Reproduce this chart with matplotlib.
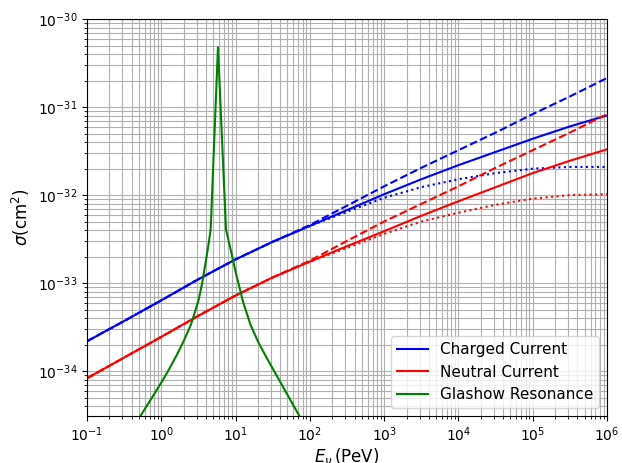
import numpy as np
import matplotlib
matplotlib.use("Agg")
import matplotlib.pyplot as plt

# log10(E / PeV) sample points
log_E = [-1.0, -0.5, 0.0, 0.5, 1.0, 1.5, 2.0, 2.5, 3.0, 3.5, 4.0, 4.5, 5.0, 5.5, 6.0]

# log10(sigma / cm^2)
cc_solid  = [-33.66, -33.43, -33.195, -32.955, -32.73, -32.53, -32.35, -32.17, -31.99, -31.82, -31.66, -31.51, -31.36, -31.22, -31.095]
cc_dashed = [-33.66, -33.43, -33.195, -32.955, -32.73, -32.53, -32.34, -32.12, -31.90, -31.69, -31.49, -31.29, -31.08, -30.88, -30.67]
cc_dotted = [-33.66, -33.43, -33.195, -32.955, -32.73, -32.53, -32.35, -32.19, -32.03, -31.91, -31.82, -31.75, -31.70, -31.68, -31.68]

nc_solid  = [-34.08, -33.845, -33.61, -33.37, -33.14, -32.935, -32.755, -32.58, -32.41, -32.235, -32.07, -31.91, -31.75, -31.61, -31.48]
nc_dashed = [-34.08, -33.845, -33.61, -33.37, -33.14, -32.935, -32.745, -32.52, -32.30, -32.10, -31.90, -31.69, -31.49, -31.29, -31.08]
nc_dotted = [-34.08, -33.845, -33.61, -33.37, -33.14, -32.935, -32.755, -32.60, -32.44, -32.30, -32.20, -32.11, -32.04, -32.00, -31.99]

# Glashow resonance
gr_log_E   = [-0.4, -0.3, -0.2, -0.1, 0.0, 0.1, 0.2, 0.3, 0.4, 0.5, 0.55, 0.6, 0.625, 0.665,
              0.763,
              0.871, 0.934, 1.0, 1.1, 1.2, 1.3, 1.4, 1.5, 1.6, 1.7, 1.8, 1.9]
gr_log_sig = [-34.67, -34.535, -34.40, -34.265, -34.13, -33.985, -33.83, -33.66, -33.47, -33.20, -33.00, -32.75, -32.62, -32.39,
              -30.32,
              -32.39, -32.62, -32.87, -33.21, -33.47, -33.66, -33.82, -33.97, -34.12, -34.27, -34.42, -34.57]

plt.rcParams['font.size'] = 10

E = 10.0 ** np.array(log_E)
Eg = 10.0 ** np.array(gr_log_E)
p = lambda a: 10.0 ** np.array(a)

fig = plt.figure(figsize=(6.22, 4.63), dpi=100)
ax = fig.add_axes([87/622, 1 - 416/463, 520/622, 397/463])

ax.plot(E, p(cc_solid), color='blue', lw=1.5, label='Charged Current')
ax.plot(E, p(cc_dashed), color='blue', lw=1.5, ls='--')
ax.plot(E, p(cc_dotted), color='blue', lw=1.5, ls=':')
ax.plot(E, p(nc_solid), color='red', lw=1.5, label='Neutral Current')
ax.plot(E, p(nc_dashed), color='red', lw=1.5, ls='--')
ax.plot(E, p(nc_dotted), color='red', lw=1.5, ls=':')
ax.plot(Eg, p(gr_log_sig), color='green', lw=1.5, label='Glashow Resonance')

ax.set_xscale('log')
ax.set_yscale('log')
ax.set_xlim(1e-1, 1e6)
ax.set_ylim(3.1e-35, 1e-30)
ax.grid(True, which='both')
ax.tick_params(labelsize=10)
ax.set_xlabel(r'$E_\nu\,$(PeV)', fontsize=12, labelpad=1)
ax.set_ylabel(r'$\sigma$(cm$^2$)', fontsize=12)
ax.legend(loc='lower right', fontsize=11)

fig.savefig('out.png', dpi=100)
